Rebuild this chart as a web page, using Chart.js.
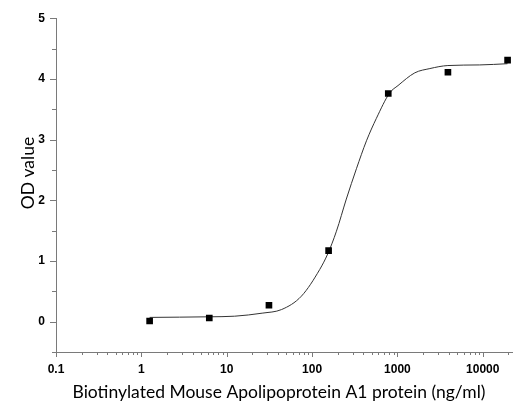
<!DOCTYPE html>
<html>
<head>
<meta charset="utf-8">
<script src="https://cdn.jsdelivr.net/npm/chart.js@4/dist/chart.umd.min.js"></script>
<style>
    body { margin: 0; background: #fff; }
    #canvas { display: block; }
</style>
</head>
<body>
<canvas id="canvas" width="530" height="417"></canvas>
<script>
// measured points (ng/ml, OD)
const concentrations = [1.25, 6.25, 31.25, 156.25, 781.25, 3906.25, 19531.25]
const odValues = [0.01, 0.06, 0.27, 1.17, 3.76, 4.11, 4.31]

// fitted curve
const fitConcentrations = [1.25, 6.25, 12.4, 26, 44, 75, 123, 153, 193, 252, 331, 434, 567, 813, 1016, 1600, 2400, 3900, 9200, 19500]
const fitOdValues = [0.07, 0.08, 0.09, 0.14, 0.2, 0.42, 0.86, 1.12, 1.49, 2.02, 2.52, 2.98, 3.35, 3.77, 3.89, 4.1, 4.17, 4.22, 4.23, 4.25]

const xTickValues = [
    0.1, 0.2, 0.3, 0.4, 0.5, 0.6, 0.7, 0.8, 0.9,
    1, 2, 3, 4, 5, 6, 7, 8, 9,
    10, 20, 30, 40, 50, 60, 70, 80, 90,
    100, 200, 300, 400, 500, 600, 700, 800, 900,
    1000, 2000, 3000, 4000, 5000, 6000, 7000, 8000, 9000,
    10000, 20000
]
const xTickLabels = [0.1, 1, 10, 100, 1000, 10000]
const yTickValues = [-0.5, 0, 0.5, 1, 1.5, 2, 2.5, 3, 3.5, 4, 4.5, 5]
const yTickLabels = [0, 1, 2, 3, 4, 5]

const xTitle = 'Biotinylated Mouse Apolipoprotein A1 protein (ng/ml)'
const yTitle = 'OD value'

const axisColor = '#7a7a7a'
const tickFont = { family: '"Liberation Sans", Arial, sans-serif', size: 12, weight: 'bold' }
const titleFont = '17.5px Lato, "Noto Sans", sans-serif'

const axisExtras = {
    id: 'axisExtras',
    afterDraw(chart) {
        const { ctx, chartArea, scales: { x, y } } = chart
        ctx.save()
        ctx.strokeStyle = axisColor
        ctx.lineWidth = 1
        ctx.beginPath()
        xTickValues.forEach(v => {
            const px = Math.round(x.getPixelForValue(v)) + 0.5
            const len = xTickLabels.includes(v) ? 5 : 3
            ctx.moveTo(px, chartArea.bottom)
            ctx.lineTo(px, chartArea.bottom + len)
        })
        yTickValues.forEach(v => {
            const py = Math.round(y.getPixelForValue(v)) + 0.5
            const len = yTickLabels.includes(v) ? 6 : 4
            ctx.moveTo(chartArea.left, py)
            ctx.lineTo(chartArea.left - len, py)
        })
        ctx.stroke()

        ctx.fillStyle = '#000'
        ctx.font = titleFont
        ctx.textAlign = 'center'
        ctx.textBaseline = 'alphabetic'
        ctx.fillText(xTitle, (chartArea.left + chartArea.right) / 2 - 5, 398)

        ctx.translate(34, (chartArea.top + chartArea.bottom) / 2 - 12)
        ctx.rotate(-Math.PI / 2)
        ctx.fillText(yTitle, 0, 0)
        ctx.restore()
    }
}

const ctx = document.querySelector('#canvas').getContext('2d')
const myChart = new Chart(ctx, {
    type: 'scatter',
    data: {
        datasets: [{
            label: 'OD',
            data: concentrations.map((c, i) => ({ x: c, y: odValues[i] })),
            pointStyle: 'rect',
            pointRadius: 4.7,
            pointBorderWidth: 0,
            backgroundColor: '#000',
            borderColor: '#000'
        }, {
            label: 'fit',
            data: fitConcentrations.map((c, i) => ({ x: c, y: fitOdValues[i] })),
            showLine: true,
            pointRadius: 0,
            borderColor: '#333',
            borderWidth: 1,
            cubicInterpolationMode: 'monotone'
        }]
    },
    options: {
        responsive: false,
        animation: false,
        layout: { padding: { left: 0, top: 17, right: 18, bottom: 0 } },
        plugins: {
            legend: { display: false },
            tooltip: { enabled: false }
        },
        scales: {
            x: {
                type: 'logarithmic',
                min: 0.1,
                max: 22000,
                afterBuildTicks: scale => {
                    scale.ticks = xTickValues.map(v => ({ value: v }))
                },
                afterFit: scale => { scale.height = 65 },
                grid: { display: false, tickLength: 0 },
                border: { display: true, color: axisColor, width: 1 },
                ticks: {
                    autoSkip: false,
                    maxRotation: 0,
                    padding: 10,
                    color: '#000',
                    font: tickFont,
                    callback: v => xTickLabels.includes(v) ? String(v) : ''
                }
            },
            y: {
                min: -0.5,
                max: 5,
                afterBuildTicks: scale => {
                    scale.ticks = yTickValues.map(v => ({ value: v }))
                },
                afterFit: scale => { scale.width = 56 },
                grid: { display: false, tickLength: 0 },
                border: { display: true, color: axisColor, width: 1 },
                ticks: {
                    autoSkip: false,
                    padding: 11,
                    color: '#000',
                    font: tickFont,
                    callback: v => yTickLabels.includes(v) ? String(v) : ''
                }
            }
        }
    },
    plugins: [axisExtras]
})
</script>
</body>
</html>
